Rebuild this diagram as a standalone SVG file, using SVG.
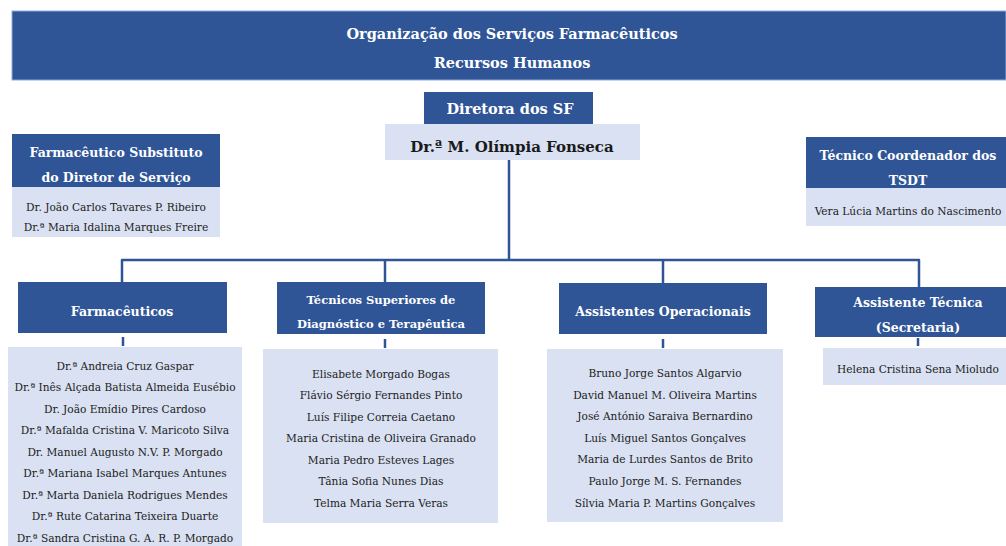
<svg xmlns="http://www.w3.org/2000/svg" width="1006" height="546" viewBox="0 0 1006 546">
<style>
.hd{fill:#2F5597;}
.lt{fill:#D9E1F2;}
.ht{font-family:"DejaVu Serif","Liberation Serif",serif;font-weight:bold;font-size:12.5px;fill:#FFFFFF;text-anchor:middle;}
.hs{font-size:11.5px;}
.nt{font-family:"DejaVu Serif","Liberation Serif",serif;font-size:10.6px;fill:#222222;text-anchor:middle;}
.bt{font-family:"DejaVu Serif","Liberation Serif",serif;font-weight:bold;font-size:15px;fill:#1a1a1a;text-anchor:middle;}
.tt{font-family:"DejaVu Serif","Liberation Serif",serif;font-weight:bold;font-size:14.5px;fill:#FFFFFF;text-anchor:middle;}
.cn{fill:none;stroke:#2F5597;stroke-width:2.5;stroke-linejoin:round;}
</style>
<rect width="1006" height="546" fill="#FFFFFF"/>
<g id="title">
<rect x="12" y="11" width="994" height="69" class="hd" stroke="#8FAADC" stroke-width="1"/>
<text x="512" y="39" class="tt">Organização dos Serviços Farmacêuticos</text>
<text x="512" y="68" class="tt">Recursos Humanos</text>
</g>
<g id="connectors">
<path class="cn" d="M509 160 V260"/>
<path class="cn" d="M122 283 V260 H919 V287"/>
<path class="cn" d="M385 260 V283"/>
<path class="cn" d="M663 260 V283"/>
<path class="cn" d="M123 337 V346"/>
<path class="cn" d="M385 339 V348"/>
<path class="cn" d="M663 339 V348"/>
<path class="cn" d="M918 338 V346"/>
</g>
<g id="diretora">
<rect x="424" y="92" width="169" height="32" class="hd"/>
<text x="510" y="114" class="tt">Diretora dos SF</text>
<rect x="385" y="124" width="255" height="36" class="lt"/>
<text x="512" y="152" class="bt">Dr.ª M. Olímpia Fonseca</text>
</g>
<g id="substituto">
<rect x="12" y="134" width="208" height="53" class="hd"/>
<text x="116" y="157" class="ht">Farmacêutico Substituto</text>
<text x="116" y="182" class="ht">do Diretor de Serviço</text>
<rect x="12" y="187" width="208" height="50" class="lt"/>
<text x="116" y="211" class="nt">Dr. João Carlos Tavares P. Ribeiro</text>
<text x="116" y="231" class="nt">Dr.ª Maria Idalina Marques Freire</text>
</g>
<g id="coordenador">
<rect x="806" y="137" width="200" height="51" class="hd"/>
<text x="908" y="160" class="ht">Técnico Coordenador dos</text>
<text x="908" y="185" class="ht">TSDT</text>
<rect x="806" y="188" width="200" height="38" class="lt"/>
<text x="908" y="215" class="nt">Vera Lúcia Martins do Nascimento</text>
</g>
<g id="farmaceuticos">
<rect x="18" y="282" width="209" height="51" class="hd"/>
<text x="122" y="316" class="ht">Farmacêuticos</text>
<rect x="8" y="347" width="234" height="199" class="lt"/>
<text x="125" y="370" class="nt">Dr.ª Andreia Cruz Gaspar</text>
<text x="125" y="391" class="nt">Dr.ª Inês Alçada Batista Almeida Eusébio</text>
<text x="125" y="413" class="nt">Dr. João Emídio Pires Cardoso</text>
<text x="125" y="434" class="nt">Dr.ª Mafalda Cristina V. Maricoto Silva</text>
<text x="125" y="456" class="nt">Dr. Manuel Augusto N.V. P.  Morgado</text>
<text x="125" y="477" class="nt">Dr.ª Mariana Isabel Marques Antunes</text>
<text x="125" y="499" class="nt">Dr.ª Marta Daniela Rodrigues Mendes</text>
<text x="125" y="520" class="nt">Dr.ª Rute Catarina Teixeira Duarte</text>
<text x="125" y="542" class="nt">Dr.ª Sandra Cristina G. A. R. P. Morgado</text>
</g>
<g id="tsdt">
<rect x="277" y="282" width="208" height="52" class="hd"/>
<text x="381" y="304" class="ht hs">Técnicos Superiores de</text>
<text x="381" y="328" class="ht hs">Diagnóstico e Terapêutica</text>
<rect x="263" y="349" width="235" height="174" class="lt"/>
<text x="381" y="378" class="nt">Elisabete Morgado Bogas</text>
<text x="381" y="399" class="nt">Flávio Sérgio Fernandes Pinto</text>
<text x="381" y="421" class="nt">Luís Filipe Correia Caetano</text>
<text x="381" y="442" class="nt">Maria Cristina de Oliveira Granado</text>
<text x="381" y="464" class="nt">Maria Pedro Esteves Lages</text>
<text x="381" y="485" class="nt">Tânia Sofia Nunes Dias</text>
<text x="381" y="507" class="nt">Telma Maria Serra Veras</text>
</g>
<g id="operacionais">
<rect x="559" y="283" width="208" height="51" class="hd"/>
<text x="663" y="316" class="ht">Assistentes Operacionais</text>
<rect x="547" y="349" width="236" height="173" class="lt"/>
<text x="665" y="377" class="nt">Bruno Jorge Santos Algarvio</text>
<text x="665" y="399" class="nt">David Manuel M. Oliveira Martins</text>
<text x="665" y="420" class="nt">José António Saraiva Bernardino</text>
<text x="665" y="442" class="nt">Luís Miguel Santos Gonçalves</text>
<text x="665" y="463" class="nt">Maria de Lurdes Santos de Brito</text>
<text x="665" y="485" class="nt">Paulo Jorge M. S. Fernandes</text>
<text x="665" y="507" class="nt">Sílvia Maria P. Martins Gonçalves</text>
</g>
<g id="secretaria">
<rect x="815" y="287" width="191" height="50" class="hd"/>
<text x="918" y="307" class="ht">Assistente Técnica</text>
<text x="918" y="332" class="ht">(Secretaria)</text>
<rect x="823" y="348" width="183" height="37" class="lt"/>
<text x="918" y="373" class="nt">Helena Cristina Sena Mioludo</text>
</g>
</svg>
